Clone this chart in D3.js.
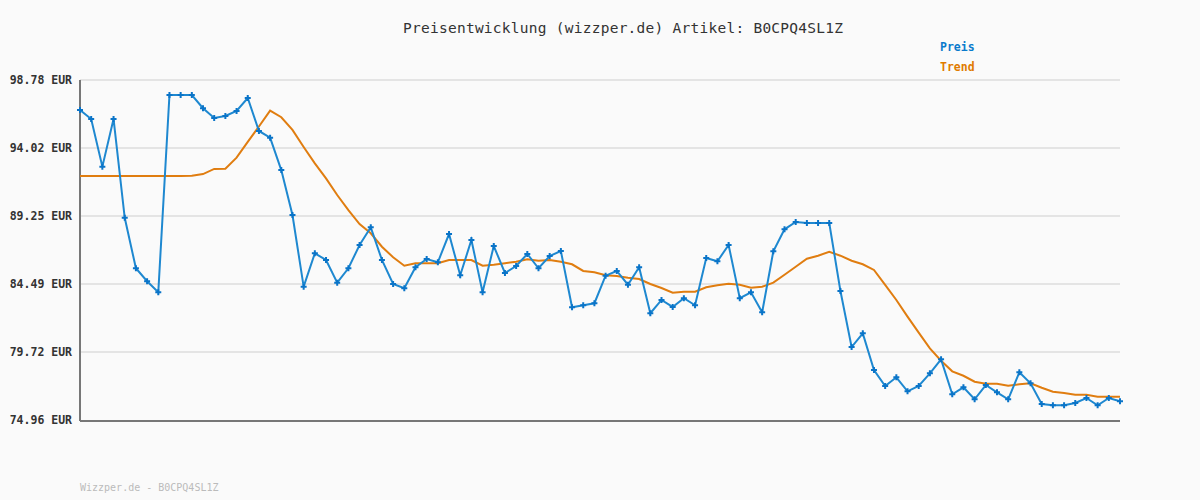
<!DOCTYPE html>
<html>
<head>
<meta charset="utf-8">
<script src="https://cdn.jsdelivr.net/npm/d3@7"></script>
<style>
  body { margin: 0; background: #fafafa; }
  svg { display: block; }
  text { font-family: "DejaVu Sans Mono", monospace; }
</style>
</head>
<body>
<div id="chart"></div>
<script>
// data
const titleText = "Preisentwicklung (wizzper.de) Artikel: B0CPQ4SL1Z"
const footerText = "Wizzper.de - B0CPQ4SL1Z"
const seriesNames = ["Preis", "Trend"]
const yTicks = [74.96, 79.72, 84.49, 89.25, 94.02, 98.78]

const preis = [
  96.68, 96.05, 92.71, 96.05, 89.13, 85.59, 84.68, 83.91, 97.73, 97.73,
  97.73, 96.80, 96.12, 96.26, 96.61, 97.52, 95.21, 94.74, 92.47, 89.32,
  84.30, 86.64, 86.17, 84.58, 85.59, 87.22, 88.46, 86.17, 84.49, 84.19,
  85.66, 86.24, 86.01, 87.99, 85.10, 87.57, 83.91, 87.15, 85.26, 85.75,
  86.59, 85.59, 86.45, 86.80, 82.86, 83.00, 83.14, 85.07, 85.40, 84.44,
  85.66, 82.44, 83.37, 82.88, 83.49, 83.00, 86.31, 86.08, 87.22, 83.49,
  83.91, 82.51, 86.78, 88.32, 88.83, 88.76, 88.76, 88.76, 84.00, 80.07,
  81.03, 78.46, 77.34, 77.95, 76.97, 77.34, 78.23, 79.21, 76.76, 77.25,
  76.41, 77.41, 76.90, 76.41, 78.30, 77.53, 76.08, 75.99, 75.99, 76.15,
  76.50, 75.99, 76.50, 76.27
]

const trend = [
  92.05, 92.05, 92.05, 92.05, 92.05, 92.05, 92.05, 92.05, 92.05, 92.05,
  92.07, 92.19, 92.55, 92.57, 93.34, 94.44, 95.52, 96.63, 96.17, 95.28,
  94.09, 92.94, 91.89, 90.72, 89.67, 88.69, 88.04, 87.10, 86.36, 85.77,
  85.94, 85.94, 85.94, 86.17, 86.17, 86.17, 85.77, 85.84, 85.94, 86.05,
  86.22, 86.12, 86.17, 86.05, 85.87, 85.40, 85.31, 85.10, 85.05, 84.93,
  84.84, 84.49, 84.21, 83.88, 83.95, 83.95, 84.26, 84.40, 84.51, 84.44,
  84.23, 84.30, 84.58, 85.14, 85.70, 86.26, 86.47, 86.75, 86.47, 86.12,
  85.87, 85.47, 84.42, 83.37, 82.20, 81.08, 79.98, 79.11, 78.37, 78.06,
  77.64, 77.50, 77.50, 77.36, 77.46, 77.53, 77.22, 76.94, 76.85, 76.73,
  76.73, 76.59, 76.59, 76.59
]

const width = 1200
const height = 500
const margin = {top: 80, right: 80, bottom: 80, left: 80}

const svg = d3.select("#chart").append("svg")
    .attr("width", width)
    .attr("height", height)

svg.append("rect")
    .attr("width", width)
    .attr("height", height)
    .attr("fill", "#fafafa")

const xScale = d3.scaleLinear()
    .domain([0, preis.length - 1])
    .range([margin.left, width - margin.right])

const yScale = d3.scaleLinear()
    .domain([yTicks[0], yTicks[yTicks.length - 1]])
    .range([height - margin.bottom, margin.top])

// grid lines
svg.append("g")
    .selectAll("line")
    .data(yTicks.slice(1))
    .join("line")
        .attr("x1", margin.left)
        .attr("x2", width - margin.right)
        .attr("y1", d => yScale(d))
        .attr("y2", d => yScale(d))
        .attr("stroke", "#e4e4e4")
        .attr("stroke-width", 2)

// y axis labels
const yAx = d3.axisLeft(yScale)
    .tickValues(yTicks)
    .tickSize(0)
    .tickPadding(8)
    .tickFormat(d => d.toFixed(2) + " EUR")

const yGroup = svg.append("g")
    .attr("transform", `translate(${margin.left},0)`)
    .call(yAx)
yGroup.select(".domain").remove()
yGroup.selectAll("text")
    .attr("font-family", "DejaVu Sans Mono, monospace")
    .attr("font-size", 11.5)
    .attr("font-weight", "bold")
    .attr("fill", "#333")

// axes lines
svg.append("line")
    .attr("x1", margin.left).attr("x2", margin.left)
    .attr("y1", margin.top).attr("y2", height - margin.bottom + 1)
    .attr("stroke", "#777").attr("stroke-width", 2)
svg.append("line")
    .attr("x1", margin.left).attr("x2", width - margin.right)
    .attr("y1", height - margin.bottom + 1).attr("y2", height - margin.bottom + 1)
    .attr("stroke", "#777").attr("stroke-width", 2)

const line = d3.line()
    .x((d, i) => xScale(i))
    .y(d => yScale(d))

// trend line
svg.append("path")
    .datum(trend)
    .attr("fill", "none")
    .attr("stroke", "#e07d10")
    .attr("stroke-width", 2)
    .attr("d", line)

// price line
svg.append("path")
    .datum(preis)
    .attr("fill", "none")
    .attr("stroke", "#1e88d0")
    .attr("stroke-width", 2)
    .attr("d", line)

svg.append("g")
    .selectAll("path")
    .data(preis)
    .join("path")
        .attr("transform", (d, i) => `translate(${xScale(i)},${yScale(d)})`)
        .attr("d", d3.symbol(d3.symbolCross, 20))
        .attr("fill", "#0a74c8")

// title
svg.append("text")
    .attr("x", 403)
    .attr("y", 33)
    .attr("font-size", 14.5)
    .attr("textLength", 440)
    .attr("lengthAdjust", "spacing")
    .attr("fill", "#333")
    .text(titleText)

// legend
const colors = ["#0a7acc", "#e07b00"]
svg.append("g")
    .selectAll("text")
    .data(seriesNames)
    .join("text")
        .attr("x", 940)
        .attr("y", (d, i) => 51 + i * 20)
        .attr("font-size", 11.5)
        .attr("font-weight", "bold")
        .attr("fill", (d, i) => colors[i])
        .text(d => d)

// footer
svg.append("text")
    .attr("x", 80)
    .attr("y", 491)
    .attr("font-size", 10)
    .attr("fill", "#bbb")
    .text(footerText)
</script>
</body>
</html>
